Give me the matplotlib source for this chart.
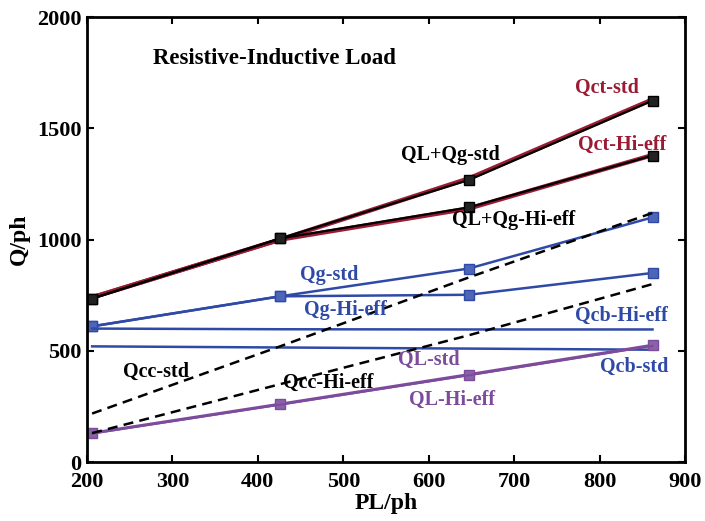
#Reactive power vs real power, resistive-inductive load
import matplotlib
matplotlib.use("Agg")
import matplotlib.pyplot as plt
import numpy as np

#Data
pl = [206, 426, 647, 862]

qct_std = [740, 1000, 1275, 1630]
qct_hi = [740, 1000, 1140, 1380]
qlqg_std = [735, 1005, 1268, 1625]
qlqg_hi = [735, 1005, 1145, 1378]
qg_std = [610, 745, 870, 1100]
qg_hi = [610, 745, 752, 850]
qcb_hi = [600, 597, 596, 596]
qcb_std = [520, 515, 510, 505]
ql_std = [130, 260, 393, 525]
ql_hi = [128, 258, 390, 522]
qcc_std = [218, 520, 830, 1120]
qcc_hi = [130, 350, 570, 800]

red = "#9b1b35"
blue = "#2f4aa6"
purple = "#7c4b9c"

plt.rcParams['font.family'] = ['Liberation Serif', 'DejaVu Serif']
plt.rcParams['font.weight'] = 'bold'

fig = plt.figure(figsize=(7.05, 5.21), dpi=100)
ax = fig.add_axes([0.1234, 0.1132, 0.8482, 0.8538])

#Top pair: red and black lines nearly overlapping
ax.plot(pl, qct_std, '-', color=red, lw=3.2)
ax.plot(pl, qct_hi, '-', color=red, lw=3.2)
ax.plot(pl, qlqg_std, '-s', color='black', lw=1.6, ms=7, mfc='#222222')
ax.plot(pl, qlqg_hi, '-s', color='black', lw=1.6, ms=7, mfc='#222222')

#Blue lines
ax.plot(pl, qg_std, '-s', color=blue, lw=1.8, ms=7, mfc='#4d66b8')
ax.plot(pl, qg_hi, '-s', color=blue, lw=1.8, ms=7, mfc='#4d66b8')
ax.plot(pl, qcb_hi, '-', color=blue, lw=1.8)
ax.plot(pl, qcb_std, '-', color=blue, lw=1.8)

#Purple lines
ax.plot(pl, ql_std, '-s', color=purple, lw=2.2, ms=7, mfc='#8a62a8')
ax.plot(pl, ql_hi, '-', color=purple, lw=1.5)

#Dashed black lines
ax.plot(pl, qcc_std, '--', color='black', lw=1.8, dashes=(4, 2.5))
ax.plot(pl, qcc_hi, '--', color='black', lw=1.8, dashes=(4, 2.5))

ax.set_xlim(200, 900)
ax.set_ylim(0, 2000)
ax.set_xticks(np.arange(200, 901, 100))
ax.set_yticks([0, 500, 1000, 1500, 2000])
ax.tick_params(direction='in', top=True, right=True, labelsize=16, width=1.5, length=5)
ax.tick_params(axis='x', pad=7)
ax.tick_params(axis='y', pad=4)
for s in ax.spines.values():
    s.set_linewidth(2)

ax.set_xlabel("PL/ph", fontsize=17, fontweight='bold', labelpad=1)
ax.set_ylabel("Q/ph", fontsize=17, fontweight='bold', labelpad=5)

#Labels
fs = 14.5
ax.text(277, 1816, "Resistive-Inductive Load", fontsize=16.5, va='center')
ax.text(771, 1681, "Qct-std", color=red, fontsize=fs, va='center')
ax.text(567, 1380, "QL+Qg-std", color='black', fontsize=fs, va='center')
ax.text(775, 1425, "Qct-Hi-eff", color=red, fontsize=fs, va='center')
ax.text(627, 1088, "QL+Qg-Hi-eff", color='black', fontsize=fs, va='center')
ax.text(449, 840, "Qg-std", color=blue, fontsize=fs, va='center')
ax.text(454, 683, "Qg-Hi-eff", color=blue, fontsize=fs, va='center')
ax.text(771, 656, "Qcb-Hi-eff", color=blue, fontsize=fs, va='center')
ax.text(242, 404, "Qcc-std", color='black', fontsize=fs, va='center')
ax.text(430, 355, "Qcc-Hi-eff", color='black', fontsize=fs, va='center')
ax.text(564, 458, "QL-std", color=purple, fontsize=fs, va='center')
ax.text(801, 427, "Qcb-std", color=blue, fontsize=fs, va='center')
ax.text(577, 279, "QL-Hi-eff", color=purple, fontsize=fs, va='center')

fig.savefig("out.png", dpi=100)
